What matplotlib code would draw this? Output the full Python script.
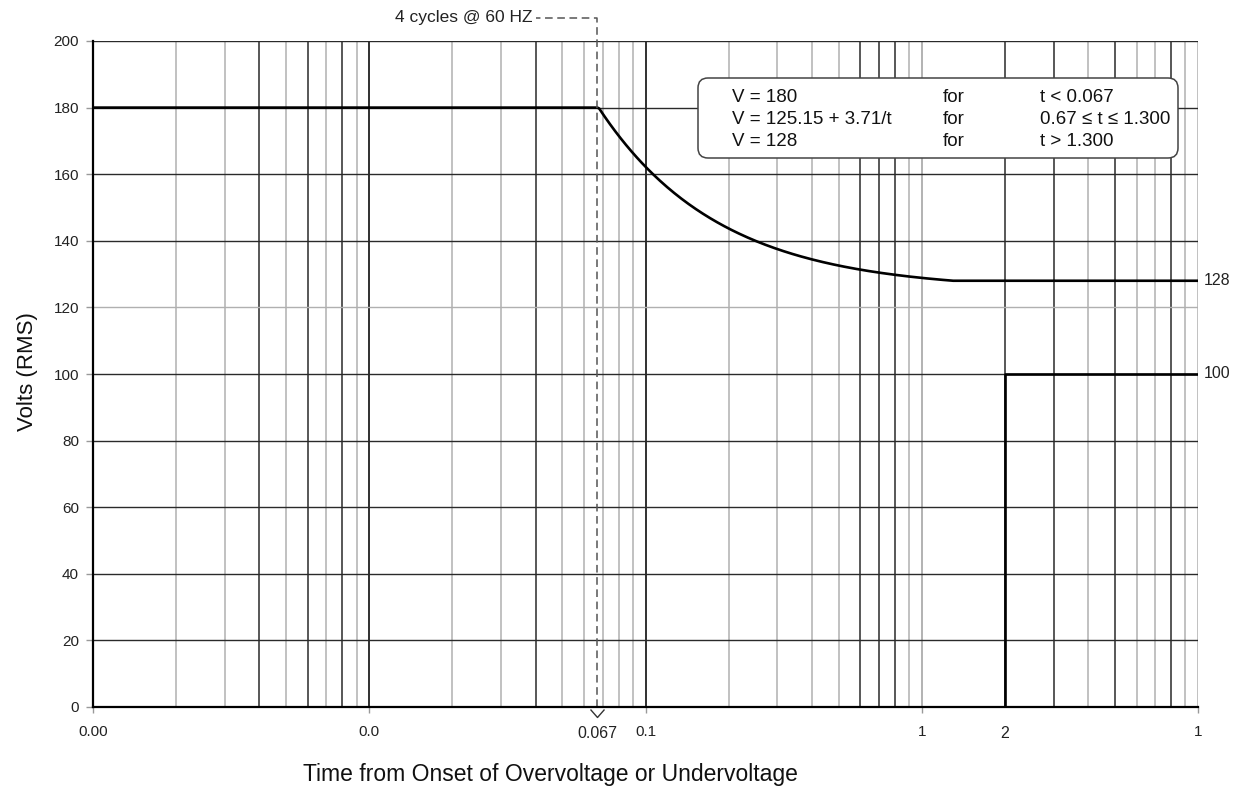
import numpy as np
import matplotlib
matplotlib.use("Agg")
import matplotlib.pyplot as plt
from matplotlib.patches import FancyBboxPatch
from matplotlib.path import Path

plt.rcParams['font.family'] = ['Liberation Sans', 'DejaVu Sans']

# --- data -------------------------------------------------------------
# overvoltage envelope: 180 V until 4 cycles, inverse-time curve, then 128 V
ov_hold_v = 180
ov_hold_end = 0.067
curve_a = 125.15
curve_b = 3.71
curve_end = 1.300
ov_final_v = 128

# undervoltage envelope: 0 V until 2 s, then 100 V
uv_times = [0.001, 2, 2, 10]
uv_volts = [0, 0, 100, 100]

x_major = [0.001, 0.01, 0.1, 1, 10]
x_major_labels = ["0.00", "0.0", "0.1", "1", "1"]
y_ticks = [0, 20, 40, 60, 80, 100, 120, 140, 160, 180, 200]

box_rows = [
    ("V = 180", "for", "t < 0.067"),
    ("V = 125.15 + 3.71/t", "for", "0.67 \u2264 t \u2264 1.300"),
    ("V = 128", "for", "t > 1.300"),
]

# --- figure -----------------------------------------------------------
W, H = 1236, 787
fig = plt.figure(figsize=(W / 100, H / 100), dpi=100)
ax = fig.add_axes([93 / W, 1 - 707 / H, (1198 - 93) / W, (707 - 41) / H])
ax.set_xscale('log')
ax.set_xlim(0.001, 10)
ax.set_ylim(0, 200)


def fx(px):
    return px / W


def fy(py):
    return 1 - py / H


# grid
dark_v = {0.004, 0.006, 0.008, 0.01, 0.04, 0.1, 0.6, 0.7, 0.8, 2, 3, 5, 8}
for dec in [0.001, 0.01, 0.1, 1]:
    for m in range(1, 11):
        v = round(dec * m, 6)
        if v <= 0.001:
            continue
        col = '#2a2a2a' if v in dark_v else '#b0b0b0'
        ax.axvline(v, color=col, lw=1.1, zorder=1)
for yv in y_ticks[1:]:
    col = '#b0b0b0' if yv == 120 else '#2a2a2a'
    ax.axhline(yv, color=col, lw=1.0, zorder=1)

# overvoltage curve
t_curve = np.geomspace(ov_hold_end, curve_end, 200)
ov_t = np.concatenate([[0.001], t_curve, [10]])
ov_v = np.concatenate([[ov_hold_v], curve_a + curve_b / t_curve, [ov_final_v]])
ov_v[1] = ov_hold_v
ax.plot(ov_t, ov_v, color='black', lw=1.9, zorder=4, solid_joinstyle='round')

# undervoltage curve
ax.plot(uv_times, uv_volts, color='black', lw=1.9, zorder=4)

# 4-cycle marker: dashed leader above the plot
ax.plot([ov_hold_end, ov_hold_end, 0.040], [0, 207, 207], color='#555555',
        lw=1.1, ls=(0, (5, 3)), clip_on=False, zorder=5)
ax.text(0.039, 207, "4 cycles @ 60 HZ", ha='right', va='center',
        fontsize=12.5, color='#222222')

# chevron under the axis at 0.067
chevron = Path([(-7, -2), (0, -10), (7, -2)], [Path.MOVETO, Path.LINETO, Path.LINETO])
ax.plot([ov_hold_end], [0], marker=chevron, markersize=14.4, markerfacecolor='none',
        markeredgecolor='#333333', markeredgewidth=1.0, clip_on=False, zorder=6)

# spines and ticks
for s in ['top', 'right']:
    ax.spines[s].set_visible(False)
for s in ['left', 'bottom']:
    ax.spines[s].set_linewidth(1.6)
    ax.spines[s].set_zorder(5)
ax.set_yticks(y_ticks)
ax.set_yticklabels([str(v) for v in y_ticks])
ax.set_xticks(x_major)
ax.set_xticklabels(x_major_labels)
ax.xaxis.set_minor_locator(matplotlib.ticker.NullLocator())
ax.tick_params(axis='y', length=5, width=1, color='#999999', pad=5,
               labelsize=11, labelcolor='#222222')
ax.tick_params(axis='x', length=4, width=1, color='#999999', pad=9,
               labelsize=11, labelcolor='#222222')

# extra axis labels
ax.text(ov_hold_end, (707 - 733) / 666, "0.067", transform=ax.get_xaxis_transform(),
        ha='center', va='center', fontsize=11.5, color='#222222')
ax.text(2, (707 - 733) / 666, "2", transform=ax.get_xaxis_transform(),
        ha='center', va='center', fontsize=11.5, color='#222222')

# right-side level labels
ax.text(1.005, ov_final_v, "128", transform=ax.get_yaxis_transform(),
        ha='left', va='center', fontsize=11.5, color='#222222')
ax.text(1.005, 100, "100", transform=ax.get_yaxis_transform(),
        ha='left', va='center', fontsize=11.5, color='#222222')

# axis titles
fig.text(fx(27), fy(372), "Volts (RMS)", rotation=90, ha='center', va='center',
         fontsize=16, color='#111111')
fig.text(fx(550), fy(775), "Time from Onset of Overvoltage or Undervoltage",
         ha='center', va='center', fontsize=16.5, color='#111111')

# equation box
box = FancyBboxPatch((6.98, (H - 158) / 100), 4.80, 0.80,
                     boxstyle="round,pad=0,rounding_size=0.1",
                     transform=fig.dpi_scale_trans, facecolor='white',
                     edgecolor='#444444', lw=1.1, zorder=10)
fig.patches.append(box)
row_y = [102, 124, 146]
col_x = [732, 943, 1040]
for (a, b, c), yy in zip(box_rows, row_y):
    for txt, xx in zip((a, b, c), col_x):
        fig.text(fx(xx), fy(yy), txt, ha='left', va='baseline', fontsize=13.5,
                 color='#111111', zorder=11)

fig.savefig("out.png", dpi=100)
